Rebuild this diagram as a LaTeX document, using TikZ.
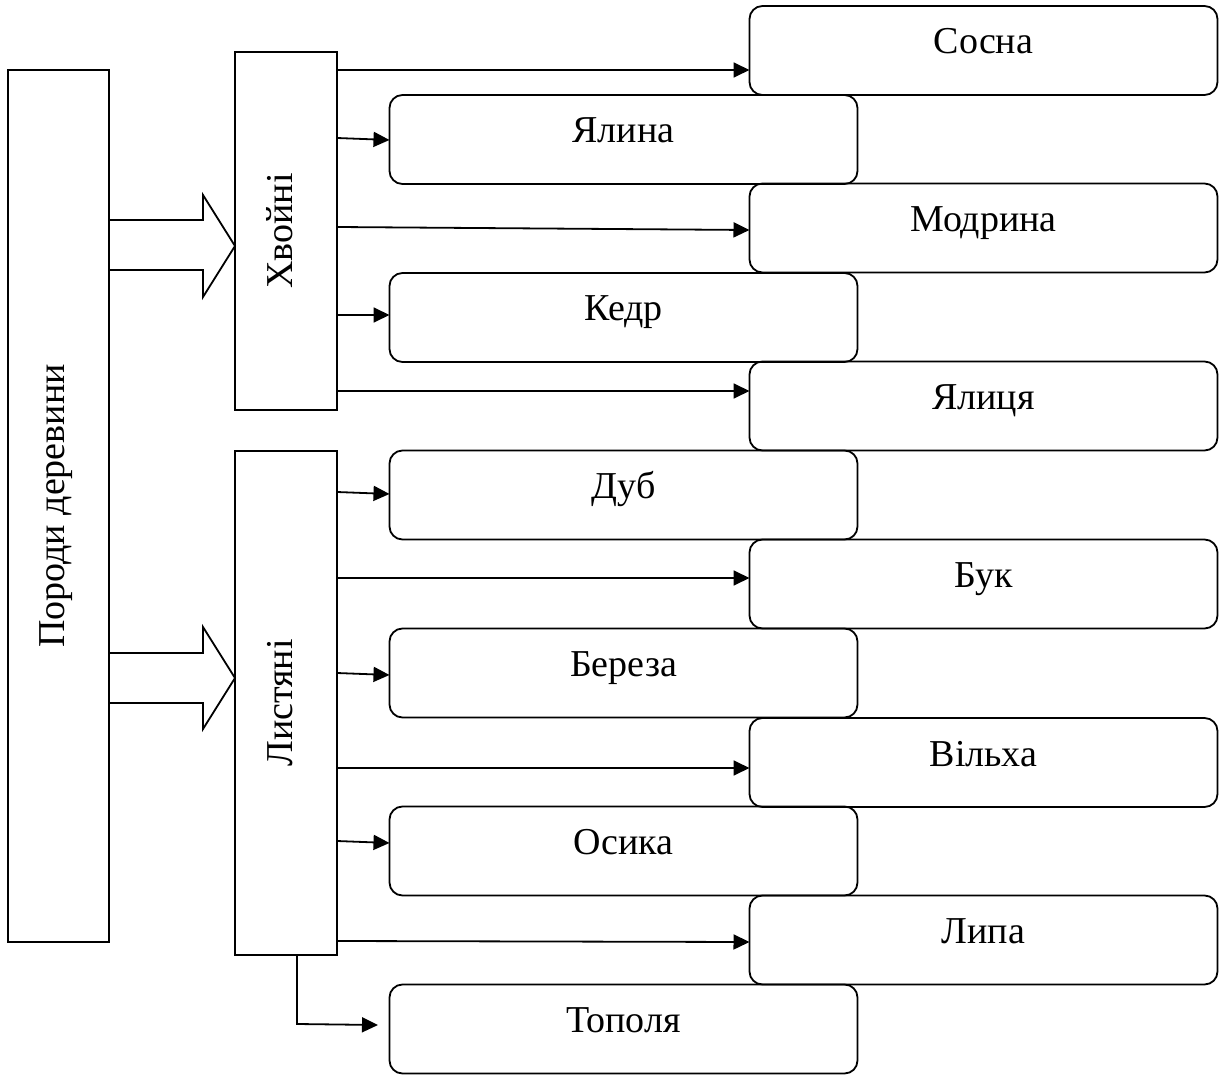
\documentclass[tikz,border=0pt]{standalone}
\usepackage{fontspec}
\setmainfont{Liberation Serif}
\usetikzlibrary{arrows.meta}
\newcommand{\vtext}[1]{\rotatebox{90}{\raisebox{0pt}[20pt][8pt]{#1}}}
\tikzset{
  sqbox/.style={draw, line width=2.2pt, minimum width=102pt, outer sep=0pt, inner sep=0pt, font=\fontsize{38}{44}\selectfont},
  rbox/.style={draw, line width=1.8pt, rounded corners=13pt, minimum width=468pt, minimum height=89pt, outer sep=0pt, inner sep=0pt, text height=24pt, text depth=17pt, font=\fontsize{38}{44}\selectfont},
  arr/.style={line width=1.8pt, -{Triangle[length=16pt,width=15pt]}},
  blk/.style={line width=1.8pt, line join=miter}
}
\begin{document}
\begin{tikzpicture}[x=1pt,y=-1pt]
\useasboundingbox (0,0) rectangle (1219,1075);
% main boxes
\node[sqbox, minimum width=101pt, minimum height=872pt] (main) at (58.5,506) {\vtext{Породи деревини}};
\node[sqbox, minimum height=358pt] (hv) at (286,231) {\vtext{Хвойні}};
\node[sqbox, minimum height=504pt] (ls) at (286,703) {\vtext{Листяні}};
% right column
\node[rbox] (sosna) at (983.5,50.5) {Сосна};
\node[rbox] (modryna) at (983.5,228) {Модрина};
\node[rbox] (yalytsia) at (983.5,406) {Ялиця};
\node[rbox] (buk) at (983.5,584) {Бук};
\node[rbox] (vilkha) at (983.5,762.5) {Вільха};
\node[rbox] (lypa) at (983.5,940) {Липа};
% left column
\node[rbox] (yalyna) at (623.5,139.5) {Ялина};
\node[rbox] (kedr) at (623.5,317.5) {Кедр};
\node[rbox] (dub) at (623.5,495) {Дуб};
\node[rbox] (bereza) at (623.5,673) {Береза};
\node[rbox] (osyka) at (623.5,851) {Осика};
\node[rbox] (topolya) at (623.5,1029) {Тополя};
% block arrows
\draw[blk] (main.east |- 0,220) -- (203,220) -- (203,195) -- (hv.west |- 0,246) -- (203,297) -- (203,270) -- (main.east |- 0,270);
\draw[blk] (main.east |- 0,653) -- (203,653) -- (203,627) -- (ls.west |- 0,678) -- (203,729) -- (203,703) -- (main.east |- 0,703);
% connectors
\draw[arr] (hv.east |- 0,70) -- (sosna.west |- 0,70);
\draw[arr] (hv.east |- 0,138) -- (yalyna.west |- 0,140);
\draw[arr] (hv.east |- 0,227) -- (modryna.west |- 0,230);
\draw[arr] (hv.east |- 0,315) -- (kedr.west |- 0,315);
\draw[arr] (hv.east |- 0,391) -- (yalytsia.west |- 0,391);
\draw[arr] (ls.east |- 0,492) -- (dub.west |- 0,494);
\draw[arr] (ls.east |- 0,578) -- (buk.west |- 0,578);
\draw[arr] (ls.east |- 0,673) -- (bereza.west |- 0,675);
\draw[arr] (ls.east |- 0,768) -- (vilkha.west |- 0,768);
\draw[arr] (ls.east |- 0,841) -- (osyka.west |- 0,843);
\draw[arr] (ls.east |- 0,941) -- (lypa.west |- 0,942);
\coordinate (tp) at (378,1025);
\draw[arr] (ls.south -| 297,0) -- (297,1024) -- (tp);
\end{tikzpicture}
\end{document}
